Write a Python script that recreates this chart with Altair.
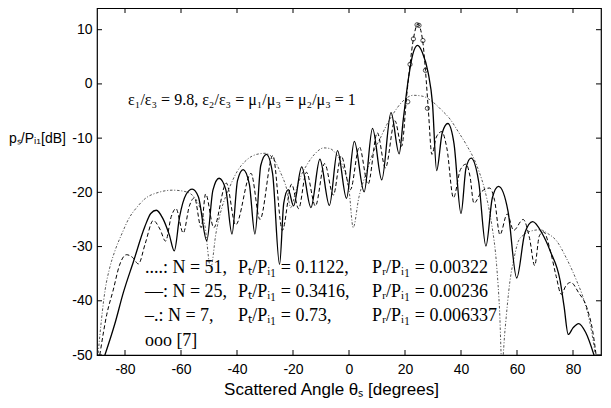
import altair as alt
import pandas as pd

# ---- N = 25 (solid) ----
solid_angle = [-87.5, -83.6, -80.6, -77.0, -72.9, -70.8, -68.8, -66.5, -64.2, -62.4,
               -60.5, -58.2, -56.0, -53.8, -50.8, -48.6, -46.4, -44.0, -41.8, -39.8,
               -37.8, -35.6, -33.6, -31.5, -29.5, -27.3, -24.8, -23.3, -21.7, -19.8,
               -16.9, -13.6, -10.4, -7.0, -4.1, -0.9, 1.9, 5.4, 8.4, 11.7,
               15.0, 17.9, 19.4, 21.2, 22.8, 24.5, 26.2, 28.3, 29.8, 31.3,
               33.3, 35.3, 37.5, 40.0, 41.8, 43.6, 46.3, 48.9, 51.2, 53.4,
               56.8, 59.9, 62.8, 65.6, 69.0, 72.0, 75.4, 76.8, 78.3, 80.0,
               82.0, 84.5, 87.8]
solid_db = [-50.5, -44.2, -38.5, -32.8, -26.3, -23.9, -23.3, -24.8, -27.8, -30.8,
            -24.5, -20.4, -19.4, -20.8, -28.9, -19.6, -17.4, -19.5, -27.7, -17.8,
            -15.8, -18.5, -27.7, -15.0, -13.0, -16.5, -33.3, -22.0, -19.5, -22.5,
            -15.3, -22.8, -13.9, -22.4, -12.3, -21.1, -10.6, -19.9, -8.2, -17.7,
            -5.3, -12.9, -6.5, 0.9, 5.5, 7.1, 5.8, 2.0, -3.5, -16.0,
            -9.0, -7.3, -11.0, -23.9, -15.5, -13.7, -18.0, -29.9, -21.0, -18.9,
            -23.5, -35.8, -27.5, -25.4, -27.6, -31.0, -36.3, -41.0, -46.2, -45.0,
            -44.2, -45.8, -50.5]

# ---- N = 51 (dashed) ----
dash_angle = [-89.0, -86.5, -84.2, -82.0, -79.5, -77.3, -75.2, -72.8, -69.9, -67.5,
              -65.5, -63.5, -61.8, -59.2, -57.0, -55.2, -52.8, -51.2, -48.3, -43.8,
              -40.5, -35.0, -31.8, -27.2, -23.8, -20.5, -18.0, -15.2, -12.0, -8.7,
              -5.6, -2.8, 0.5, 3.7, 6.8, 10.1, 13.0, 16.4, 18.8, 20.6,
              21.8, 23.0, 24.6, 26.3, 27.3, 28.3, 29.6, 31.2, 33.1, 35.0,
              37.3, 39.8, 41.8, 43.2, 44.6, 47.5, 50.2, 52.0, 53.9, 56.5,
              58.8, 62.2, 64.5, 66.3, 68.0, 69.5, 72.0, 74.0, 75.8, 77.5,
              79.2, 82.0, 84.9, 87.0, 88.5]
dash_db = [-50.0, -42.5, -38.0, -33.5, -31.5, -32.0, -33.2, -29.5, -25.2, -26.8,
           -29.0, -24.5, -23.0, -27.5, -22.5, -21.0, -26.5, -20.3, -26.5, -18.3,
           -26.0, -16.5, -25.0, -13.2, -27.0, -18.5, -23.0, -16.3, -22.5, -14.7,
           -20.5, -13.3, -19.5, -11.6, -18.5, -9.0, -15.5, -6.8, -11.5, -2.2,
           3.6, 8.3, 11.0, 8.0, 2.5, -4.5, -13.0, -9.8, -8.8, -12.0,
           -21.0, -15.8, -14.8, -17.0, -22.0, -19.8, -19.2, -21.5, -27.8, -24.0,
           -27.0, -25.0, -28.5, -33.5, -28.0, -27.3, -31.0, -35.5, -38.8, -37.2,
           -36.6, -38.5, -41.2, -45.5, -51.0]

# ---- N = 7 (dash-dot) ----
dd_angle = [-89.8, -89.0, -87.1, -85.5, -83.6, -81.0, -78.8, -75.5, -72.9, -68.0,
            -63.0, -59.0, -56.0, -53.5, -51.5, -49.4, -47.5, -45.5, -43.0, -40.0,
            -36.5, -33.0, -30.0, -27.0, -24.5, -22.3, -20.8, -19.0, -17.0, -15.0,
            -12.0, -9.0, -7.0, -4.5, -2.0, 0.0, 1.5, 3.5, 6.3, 8.5,
            11.1, 13.5, 15.8, 19.0, 23.0, 26.5, 30.1, 33.0, 36.1, 39.0,
            42.0, 45.6, 49.2, 51.0, 52.7, 53.8, 54.6, 55.7, 57.5, 59.0,
            60.5, 62.5, 64.6, 68.2, 71.0, 74.2, 77.5, 81.3, 84.0, 86.1,
            87.9, 88.8]
dd_db = [-51.0, -46.5, -38.0, -34.0, -30.8, -27.5, -25.0, -22.6, -21.2, -20.0,
         -19.6, -19.8, -20.5, -22.5, -26.0, -34.0, -27.5, -23.0, -19.5, -16.2,
         -14.0, -13.0, -12.8, -13.8, -16.3, -19.3, -22.8, -19.8, -16.8, -14.9,
         -12.8, -11.8, -11.9, -13.0, -15.5, -19.5, -26.5, -21.0, -16.2, -12.8,
         -10.1, -7.5, -5.5, -3.3, -2.1, -2.3, -3.4, -4.8, -6.5, -8.8,
         -11.3, -15.0, -21.1, -26.0, -33.3, -42.0, -52.0, -45.5, -36.3, -32.0,
         -29.0, -27.8, -27.2, -26.9, -27.6, -29.0, -32.0, -36.3, -40.0, -44.2,
         -49.7, -53.0]

# ---- reference [7] (circles) ----
ref_angle = [21.0, 21.8, 23.0, 24.3, 25.0, 26.4, 27.3, 28.0]
ref_db = [-3.3, 3.6, 8.3, 10.9, 10.8, 8.0, 2.5, -4.5]

x_ticks = [-80, -60, -40, -20, 0, 20, 40, 60, 80]
y_ticks = [-50, -40, -30, -20, -10, 0, 10]

param_text = ["ε₁/ε₃ = 9.8, ε₂/ε₃ = μ₁/μ₃ = μ₂/μ₃ = 1"]
# legend in three aligned columns
leg_col1 = ["....: N = 51,", "—: N = 25,", "–.: N = 7,", "ooo [7]"]
leg_col2 = ["Pₜ/Pᵢ₁ = 0.1122,", "Pₜ/Pᵢ₁ = 0.3416,", "Pₜ/Pᵢ₁ = 0.73,"]
leg_col3 = ["Pᵣ/Pᵢ₁ = 0.00322", "Pᵣ/Pᵢ₁ = 0.00236", "Pᵣ/Pᵢ₁ = 0.006337"]
leg_db = [-34.0, -38.4, -42.8, -47.4]
leg_x = [-72.9, -39.6, 8.2]

W, H = 504, 347
xs = alt.Scale(domain=[-90, 90], nice=False, zero=False)
ys = alt.Scale(domain=[-50, 14], nice=False, zero=False)

SANS = "Liberation Sans"
SERIF = "Liberation Serif"

x_axis = alt.Axis(values=x_ticks, ticks=False, domain=False, grid=False,
                  labelFont=SANS, labelFontSize=14, labelPadding=7, labelColor="black",
                  labelExpr="'' + datum.value", labelOverlap=False,
                  title="Scattered Angle θₛ [degrees]", titleFont=SANS, titleFontSize=17,
                  titleFontWeight="normal", titleColor="black", titleX=234, titleY=34,
                  titleBaseline="middle", titleAlign="center")
y_axis = alt.Axis(values=y_ticks, ticks=False, domain=False, grid=False,
                  labelFont=SANS, labelFontSize=14, labelPadding=5, labelColor="black",
                  labelExpr="'' + datum.value", labelOverlap=False,
                  title="pₛ/Pᵢ₁[dB]", titleFont=SANS, titleFontSize=14,
                  titleFontWeight="normal", titleColor="black", titleAngle=0,
                  titleX=-60, titleY=130, titleAlign="center", titleBaseline="middle")

X = alt.X("angle:Q", scale=xs, axis=x_axis)
Y = alt.Y("db:Q", scale=ys, axis=y_axis)


def df(a, d):
    return pd.DataFrame({"angle": a, "db": d})


solid = alt.Chart(df(solid_angle, solid_db)).mark_line(
    color="black", strokeWidth=1.3, interpolate="monotone", clip=True
).encode(x=X, y=Y, order="angle:Q")

dashed = alt.Chart(df(dash_angle, dash_db)).mark_line(
    color="black", strokeWidth=1.0, strokeDash=[4, 2.5], interpolate="monotone", clip=True
).encode(x=X, y=Y, order="angle:Q")

dashdot = alt.Chart(df(dd_angle, dd_db)).mark_line(
    color="#444444", strokeWidth=0.9, strokeDash=[2.5, 1.8, 1, 1.8], interpolate="monotone", clip=True
).encode(x=X, y=Y, order="angle:Q")

circles = alt.Chart(df(ref_angle, ref_db)).mark_point(
    shape="circle", filled=False, color="black", size=18, strokeWidth=1
).encode(x=X, y=Y)

xt = pd.DataFrame({"angle": x_ticks})
yt = pd.DataFrame({"db": y_ticks})
tick_bottom = alt.Chart(xt).mark_rule(color="black", strokeWidth=1).encode(
    x=X, y=alt.value(H), y2=alt.value(H - 5))
tick_top = alt.Chart(xt).mark_rule(color="black", strokeWidth=1).encode(
    x=X, y=alt.value(0), y2=alt.value(5))
tick_left = alt.Chart(yt).mark_rule(color="black", strokeWidth=1).encode(
    y=Y, x=alt.value(0), x2=alt.value(5))
tick_right = alt.Chart(yt).mark_rule(color="black", strokeWidth=1).encode(
    y=Y, x=alt.value(W), x2=alt.value(W - 5))

param = alt.Chart(pd.DataFrame({"angle": [-78.9], "db": [-3.0], "label": param_text})).mark_text(
    align="left", baseline="middle", font=SERIF, fontSize=16, color="black"
).encode(x=X, y=Y, text="label:N")

legend_rows = []
for i, t in enumerate(leg_col1):
    legend_rows.append({"angle": leg_x[0], "db": leg_db[i], "label": t})
for i, t in enumerate(leg_col2):
    legend_rows.append({"angle": leg_x[1], "db": leg_db[i], "label": t})
for i, t in enumerate(leg_col3):
    legend_rows.append({"angle": leg_x[2], "db": leg_db[i], "label": t})

legend = alt.Chart(pd.DataFrame(legend_rows)).mark_text(
    align="left", baseline="middle", font=SERIF, fontSize=18, color="black"
).encode(x=X, y=Y, text="label:N")

chart = alt.layer(
    dashdot, dashed, solid, circles, tick_bottom, tick_top, tick_left, tick_right, param, legend
).properties(
    width=W, height=H,
    padding={"left": 89, "top": 0, "right": 2, "bottom": 45},
    autosize=alt.AutoSizeParams(type="none"),
).configure_view(stroke="black", strokeWidth=1.2)

chart.save("out.html", embed_options={"renderer": "svg", "actions": False})
